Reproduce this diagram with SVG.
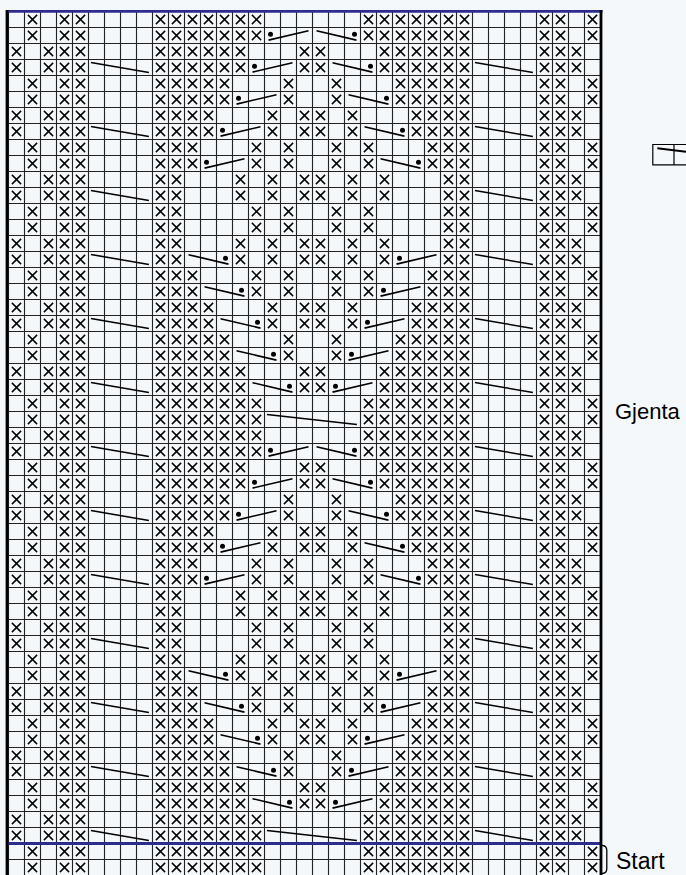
<svg xmlns="http://www.w3.org/2000/svg" xmlns:xlink="http://www.w3.org/1999/xlink" width="686" height="875" viewBox="0 0 686 875">
<style>
.grid{stroke:#222;stroke-width:1.1;fill:none}
.ln{stroke:#000;stroke-width:1.6;fill:none}
.txt{font-family:"Liberation Sans",Arial,Helvetica,sans-serif;fill:#000}
</style>
<defs>
<path id="x" d="M-4.6,-4.6L4.6,4.6M-4.6,4.6L4.6,-4.6" stroke="#000" stroke-width="1.5" fill="none"/>
<g id="L"><path d="M4,12.6L44,3.2" stroke="#000" stroke-width="1.6" fill="none"/><circle cx="6" cy="6.8" r="2.5" fill="#000"/></g>
<g id="R"><path d="M4,3.2L44,12.6" stroke="#000" stroke-width="1.6" fill="none"/><circle cx="41" cy="6.8" r="2.5" fill="#000"/></g>
<g id="pA"><use href="#x" x="152" y="8"/><use href="#x" x="168" y="8"/><use href="#x" x="184" y="8"/><use href="#x" x="200" y="8"/><use href="#x" x="216" y="8"/><use href="#x" x="232" y="8"/><use href="#x" x="248" y="8"/></g>
<g id="pB"><use href="#x" x="152" y="8"/><use href="#x" x="168" y="8"/><use href="#x" x="184" y="8"/><use href="#x" x="200" y="8"/><use href="#x" x="216" y="8"/><use href="#x" x="232" y="8"/><use href="#x" x="296" y="8"/></g>
<g id="pC"><use href="#x" x="152" y="8"/><use href="#x" x="168" y="8"/><use href="#x" x="184" y="8"/><use href="#x" x="200" y="8"/><use href="#x" x="216" y="8"/><use href="#x" x="280" y="8"/></g>
<g id="pD"><use href="#x" x="152" y="8"/><use href="#x" x="168" y="8"/><use href="#x" x="184" y="8"/><use href="#x" x="200" y="8"/><use href="#x" x="264" y="8"/><use href="#x" x="296" y="8"/></g>
<g id="pE"><use href="#x" x="152" y="8"/><use href="#x" x="168" y="8"/><use href="#x" x="184" y="8"/><use href="#x" x="248" y="8"/><use href="#x" x="280" y="8"/></g>
<g id="pF"><use href="#x" x="152" y="8"/><use href="#x" x="168" y="8"/><use href="#x" x="232" y="8"/><use href="#x" x="264" y="8"/><use href="#x" x="296" y="8"/></g>
<g id="pG"><use href="#x" x="152" y="8"/><use href="#x" x="168" y="8"/><use href="#x" x="248" y="8"/><use href="#x" x="280" y="8"/></g>
<g id="eA"><use href="#x" x="24" y="8"/><use href="#x" x="56" y="8"/><use href="#x" x="72" y="8"/><use href="#x" x="536" y="8"/><use href="#x" x="552" y="8"/><use href="#x" x="584" y="8"/></g>
<g id="eB"><use href="#x" x="8" y="8"/><use href="#x" x="40" y="8"/><use href="#x" x="56" y="8"/><use href="#x" x="72" y="8"/><use href="#x" x="536" y="8"/><use href="#x" x="552" y="8"/><use href="#x" x="568" y="8"/></g>
<g id="e4"><use href="#eA"/><use href="#eA" y="16"/><use href="#eB" y="32"/><use href="#eB" y="48"/><path class="ln" d="M82.4,51L140.4,61M466.4,51L524.4,61"/></g>
<g id="h">
<use href="#pA" y="0"/>
<use href="#pA" y="16"/><use href="#L" x="256" y="16"/>
<use href="#pB" y="32"/>
<use href="#pB" y="48"/><use href="#L" x="240" y="48"/>
<use href="#pC" y="64"/>
<use href="#pC" y="80"/><use href="#L" x="224" y="80"/>
<use href="#pD" y="96"/>
<use href="#pD" y="112"/><use href="#L" x="208" y="112"/>
<use href="#pE" y="128"/>
<use href="#pE" y="144"/><use href="#L" x="192" y="144"/>
<use href="#pF" y="160"/>
<use href="#pF" y="176"/>
<use href="#pG" y="192"/>
<use href="#pG" y="208"/>
<use href="#pF" y="224"/>
<use href="#pF" y="240"/><use href="#R" x="176" y="240"/>
<use href="#pE" y="256"/>
<use href="#pE" y="272"/><use href="#R" x="192" y="272"/>
<use href="#pD" y="288"/>
<use href="#pD" y="304"/><use href="#R" x="208" y="304"/>
<use href="#pC" y="320"/>
<use href="#pC" y="336"/><use href="#R" x="224" y="336"/>
<use href="#pB" y="352"/>
<use href="#pB" y="368"/><use href="#R" x="240" y="368"/>
<use href="#pA" y="384"/>
<use href="#pA" y="400"/>
</g>
<g id="cen"><use href="#h"/><use href="#h" transform="translate(608,0) scale(-1,1)"/><path class="ln" d="M258.4,403L348.4,413"/></g>
<g id="h2"><use href="#pA" y="832"/><use href="#pA" y="848"/></g>
</defs>
<rect x="0" y="0" width="686" height="875" fill="#f5f8fb"/>
<g id="chart" transform="translate(8.5,11.5)">
<path id="gridlines" class="grid" d="M0 0V864M16 0V864M32 0V864M48 0V864M64 0V864M80 0V864M96 0V864M112 0V864M128 0V864M144 0V864M160 0V864M176 0V864M192 0V864M208 0V864M224 0V864M240 0V864M256 0V864M272 0V864M288 0V864M304 0V864M320 0V864M336 0V864M352 0V864M368 0V864M384 0V864M400 0V864M416 0V864M432 0V864M448 0V864M464 0V864M480 0V864M496 0V864M512 0V864M528 0V864M544 0V864M560 0V864M576 0V864M592 0V864M0 16h592m-592 16h592m-592 16h592m-592 16h592m-592 16h592m-592 16h592m-592 16h592m-592 16h592m-592 16h592m-592 16h592m-592 16h592m-592 16h592m-592 16h592m-592 16h592m-592 16h592m-592 16h592m-592 16h592m-592 16h592m-592 16h592m-592 16h592m-592 16h592m-592 16h592m-592 16h592m-592 16h592m-592 16h592m-592 16h592m-592 16h592m-592 16h592m-592 16h592m-592 16h592m-592 16h592m-592 16h592m-592 16h592m-592 16h592m-592 16h592m-592 16h592m-592 16h592m-592 16h592m-592 16h592m-592 16h592m-592 16h592m-592 16h592m-592 16h592m-592 16h592m-592 16h592m-592 16h592m-592 16h592m-592 16h592m-592 16h592m-592 16h592m-592 16h592m-592 16h592m-592 16h592"/>
<g id="edges">
<use href="#e4" y="0"/><use href="#e4" y="64"/><use href="#e4" y="128"/><use href="#e4" y="192"/><use href="#e4" y="256"/><use href="#e4" y="320"/><use href="#e4" y="384"/><use href="#e4" y="448"/><use href="#e4" y="512"/><use href="#e4" y="576"/><use href="#e4" y="640"/><use href="#e4" y="704"/><use href="#e4" y="768"/>
<use href="#eA" y="832"/><use href="#eA" y="848"/>
</g>
<g id="center">
<use href="#cen" y="0"/><use href="#cen" y="416"/>
<use href="#h2"/><use href="#h2" transform="translate(608,0) scale(-1,1)"/>
</g>
</g>
<g id="borders">
<line x1="6" y1="11.3" x2="602.5" y2="11.3" stroke="#2d2b8b" stroke-width="2.8"/>
<line x1="8" y1="843.6" x2="600" y2="843.6" stroke="#2d2b8b" stroke-width="3"/>
<line x1="7" y1="10" x2="7" y2="875" stroke="#000" stroke-width="2.8"/>
<line x1="601" y1="10" x2="601" y2="875" stroke="#000" stroke-width="2.8"/>
</g>
<g id="start-bracket"><path d="M602,845.5Q606.8,845.5 606.8,850.5V868.5Q606.8,873.5 602,873.5" stroke="#000" stroke-width="1.3" fill="none"/></g>
<g id="legend-icon">
<path d="M686,144.5H652.8V164.8H686M674,144.5V164.8" stroke="#000" stroke-width="1.2" fill="none"/>
<path d="M657.3,148.3L686,151.7" stroke="#000" stroke-width="2" fill="none"/>
</g>
<text class="txt" x="615" y="419" font-size="22">Gjenta</text>
<text class="txt" x="616" y="869" font-size="23">Start</text>
</svg>
